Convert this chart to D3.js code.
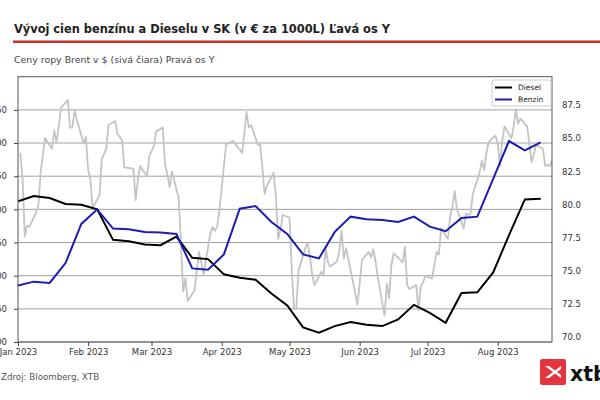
<!DOCTYPE html>
<html>
<head>
<meta charset="utf-8">
<script src="https://cdn.jsdelivr.net/npm/d3@7"></script>
<style>
  html, body { margin: 0; padding: 0; background: #fff; }
  svg { display: block; font-family: "DejaVu Sans", sans-serif; }
</style>
</head>
<body>
<svg id="chart" width="600" height="400"></svg>
<script>
// ---------------- DATA ----------------
const titleText = "Vývoj cien benzínu a Dieselu v SK (v € za 1000L) Ľavá os Y";
const subtitleText = "Ceny ropy Brent v $ (sivá čiara) Pravá os Y";
const sourceText = "Zdroj: Bloomberg, XTB";
const seriesNames = ["Diesel", "Benzin"];

// weekly fuel prices (EUR per 1000 L), weeks starting 2023-01-01
const weeklyStart = "2023-01-01";
const dieselValues = [1712, 1720, 1717, 1708, 1707, 1700, 1654, 1652, 1647, 1646, 1659, 1627,
  1625, 1602, 1597, 1594, 1573, 1555, 1522, 1514, 1524, 1530, 1526, 1524, 1534, 1556,
  1544, 1529, 1574, 1575, 1605, 1661, 1715, 1716];
const benzinValues = [1585, 1591, 1589, 1619, 1678, 1700, 1671, 1670, 1666, 1665, 1663, 1611,
  1609, 1632, 1701, 1705, 1681, 1663, 1632, 1626, 1666, 1689, 1685, 1684, 1681, 1689,
  1674, 1667, 1687, 1689, 1746, 1803, 1789, 1801];

// daily Brent (USD)
const brentDates = ["01-02","01-03","01-04","01-05","01-06","01-09","01-10","01-11","01-12","01-13",
  "01-16","01-17","01-18","01-19","01-20","01-23","01-24","01-25","01-26","01-27","01-30","01-31",
  "02-01","02-02","02-03","02-06","02-07","02-08","02-09","02-10","02-13","02-14","02-15","02-16",
  "02-17","02-21","02-22","02-23","02-24","02-27","02-28",
  "03-01","03-02","03-03","03-06","03-07","03-08","03-09","03-10","03-13","03-14","03-15","03-16",
  "03-17","03-20","03-21","03-22","03-23","03-24","03-27","03-28","03-29","03-30","03-31",
  "04-03","04-04","04-05","04-06","04-10","04-11","04-12","04-13","04-14","04-17","04-18","04-19",
  "04-20","04-21","04-24","04-25","04-26","04-27","04-28",
  "05-01","05-02","05-03","05-04","05-05","05-08","05-09","05-10","05-11","05-12","05-15","05-16",
  "05-17","05-18","05-19","05-22","05-23","05-24","05-25","05-26","05-30","05-31",
  "06-01","06-02","06-05","06-06","06-07","06-08","06-09","06-12","06-13","06-14","06-15","06-16",
  "06-19","06-20","06-21","06-22","06-23","06-26","06-27","06-28","06-29","06-30",
  "07-03","07-05","07-06","07-07","07-10","07-11","07-12","07-13","07-14","07-17","07-18","07-19",
  "07-20","07-21","07-24","07-25","07-26","07-27","07-28","07-31",
  "08-01","08-02","08-03","08-04","08-07","08-08","08-09","08-10","08-11","08-14","08-15","08-16",
  "08-17","08-18","08-21","08-22","08-23","08-24","08-25"];
const brentValues = [83.9, 82.0, 77.6, 78.4, 78.3, 79.4, 79.9, 82.4, 83.8, 85.0,
  84.2, 85.6, 84.7, 85.9, 87.3, 87.9, 85.8, 85.8, 87.1, 86.4, 84.6, 85.1,
  82.6, 81.9, 79.7, 80.7, 83.4, 83.8, 84.2, 86.0, 86.3, 85.3, 85.1, 84.8,
  82.8, 82.7, 80.3, 81.9, 82.9, 82.1, 83.6,
  84.0, 84.4, 85.5, 85.8, 83.0, 82.3, 81.3, 82.5, 80.5, 77.2, 73.4, 74.4,
  72.7, 73.5, 75.0, 76.4, 75.6, 74.7, 77.8, 78.3, 78.0, 78.3, 79.5,
  84.6, 84.6, 84.7, 84.8, 83.9, 85.3, 87.0, 85.8, 86.0, 84.5, 84.5, 82.8,
  80.8, 81.4, 82.4, 80.5, 77.4, 78.1, 79.2,
  79.0, 75.0, 72.1, 72.2, 75.0, 76.7, 77.1, 76.1, 74.7, 73.9, 74.9, 74.6,
  76.7, 75.6, 75.3, 75.7, 76.5, 78.0, 75.9, 76.7, 73.3, 72.4,
  74.0, 75.8, 76.4, 76.0, 76.6, 75.7, 74.5, 71.6, 74.0, 72.9, 75.4, 76.3,
  75.8, 75.6, 76.8, 73.9, 73.6, 73.9, 72.0, 73.8, 74.1, 74.6,
  74.4, 76.4, 76.2, 78.2, 77.4, 79.1, 79.8, 81.0, 79.6, 78.2, 79.3, 79.2,
  79.3, 80.8, 82.4, 83.3, 82.6, 83.9, 84.7, 85.2,
  84.6, 82.9, 84.8, 85.9, 85.0, 85.8, 87.2, 86.1, 86.5, 85.9, 84.6, 83.2,
  83.8, 84.5, 84.2, 82.9, 83.0, 82.9, 83.3];

const leftTicks = [1500, 1550, 1600, 1650, 1700, 1750, 1800, 1850];
const rightTicks = [70.0, 72.5, 75.0, 77.5, 80.0, 82.5, 85.0, 87.5];
const xStart = "2023-01-01", xEnd = "2023-08-25";

// ---------------- LAYOUT ----------------
const svg = d3.select("#chart");
const L = 18, R = 552, T = 76.7, B = 342;
const parse = d3.timeParse("%Y-%m-%d");

const x = d3.scaleTime().domain([parse(xStart), parse(xEnd)]).range([L, R]);
const yL = d3.scaleLinear().domain([1500, 1900]).range([B, T]);
const yR = d3.scaleLinear().domain([69.6, 89.65]).range([B, T]);

const week0 = parse(weeklyStart);
const weekly = dieselValues.map((d, i) => ({ date: d3.timeDay.offset(week0, 7 * i), diesel: d, benzin: benzinValues[i] }));
const brent = brentDates.map((d, i) => ({ date: parse("2023-" + d), v: brentValues[i] }));

// title
svg.append("text").attr("x", 14).attr("y", 32.5)
  .attr("font-size", 11.4).attr("font-weight", "bold").attr("fill", "#222")
  .text(titleText);
svg.append("line").attr("x1", 13).attr("x2", 600).attr("y1", 41.7).attr("y2", 41.7)
  .attr("stroke", "#c9302c").attr("stroke-width", 2.5);
svg.append("text").attr("x", 14).attr("y", 63.3)
  .attr("font-size", 9.4).attr("fill", "#444")
  .text(subtitleText);

// gridlines
svg.append("g").selectAll("line").data(leftTicks).join("line")
  .attr("x1", L).attr("x2", R).attr("y1", d => yL(d)).attr("y2", d => yL(d))
  .attr("stroke", "#a0a0a0").attr("stroke-width", 1);

// lines
const clip = svg.append("clipPath").attr("id", "clip").append("rect")
  .attr("x", L).attr("y", T).attr("width", R - L).attr("height", B - T);
const plot = svg.append("g").attr("clip-path", "url(#clip)");

plot.append("path").datum(brent)
  .attr("fill", "none").attr("stroke", "#c4c4c4").attr("stroke-width", 1.8)
  .attr("stroke-linejoin", "round")
  .attr("d", d3.line().x(d => x(d.date)).y(d => yR(d.v)));

plot.append("path").datum(weekly)
  .attr("fill", "none").attr("stroke", "#000").attr("stroke-width", 2)
  .attr("d", d3.line().x(d => x(d.date)).y(d => yL(d.diesel)));

plot.append("path").datum(weekly)
  .attr("fill", "none").attr("stroke", "#1c1cb0").attr("stroke-width", 2)
  .attr("d", d3.line().x(d => x(d.date)).y(d => yL(d.benzin)));

// frame
svg.append("rect").attr("x", L).attr("y", T).attr("width", R - L).attr("height", B - T)
  .attr("fill", "none").attr("stroke", "#555").attr("stroke-width", 1);

// axes
const axFont = (g) => {
  g.selectAll("text").attr("font-size", 8.5).attr("fill", "#333").attr("font-family", "DejaVu Sans");
  g.selectAll("line").attr("stroke", "#444");
  g.select(".domain").remove();
};

svg.append("g").attr("transform", `translate(0,${B})`)
  .call(d3.axisBottom(x).ticks(d3.timeMonth.every(1)).tickFormat(d3.timeFormat("%b %Y"))
    .tickSize(4).tickPadding(3))
  .call(axFont);

svg.append("g").attr("transform", `translate(${L},0)`)
  .call(d3.axisLeft(yL).tickValues(leftTicks).tickSize(4).tickPadding(7).tickFormat(d3.format("d")))
  .call(axFont);

svg.append("g").attr("transform", `translate(${R},0)`)
  .call(d3.axisRight(yR).tickValues(rightTicks).tickSize(0).tickPadding(10).tickFormat(d3.format(".1f")))
  .call(axFont);

// legend
const lg = svg.append("g");
lg.append("rect").attr("x", 492).attr("y", 80).attr("width", 59).attr("height", 26)
  .attr("rx", 2).attr("fill", "#fff").attr("stroke", "#ccc");
const lgColors = ["#000", "#1c1cb0"];
seriesNames.forEach((n, i) => {
  const yy = 87.5 + i * 12;
  lg.append("line").attr("x1", 495).attr("x2", 512).attr("y1", yy).attr("y2", yy)
    .attr("stroke", lgColors[i]).attr("stroke-width", 2);
  lg.append("text").attr("x", 518).attr("y", yy + 2.7).attr("font-size", 7.5).attr("fill", "#222").text(n);
});

// source
svg.append("text").attr("x", 1).attr("y", 380).attr("font-size", 8.7).attr("fill", "#555").text(sourceText);

// logo
const logo = svg.append("g");
logo.append("rect").attr("x", 540).attr("y", 359).attr("width", 26).attr("height", 26)
  .attr("rx", 2).attr("fill", "#e4353f");
logo.append("path")
  .attr("d", "M545,366 L553,372 L545,378 L549,378 L555,373.5 L561,378 L561,375 L557,372 L561,369 L561,366 L555,370.5 L549,366 Z")
  .attr("fill", "#fff");
logo.append("text").attr("x", 570).attr("y", 380.5).attr("font-size", 20.5).attr("font-weight", "bold")
  .attr("fill", "#111").text("xtb");
</script>
</body>
</html>
